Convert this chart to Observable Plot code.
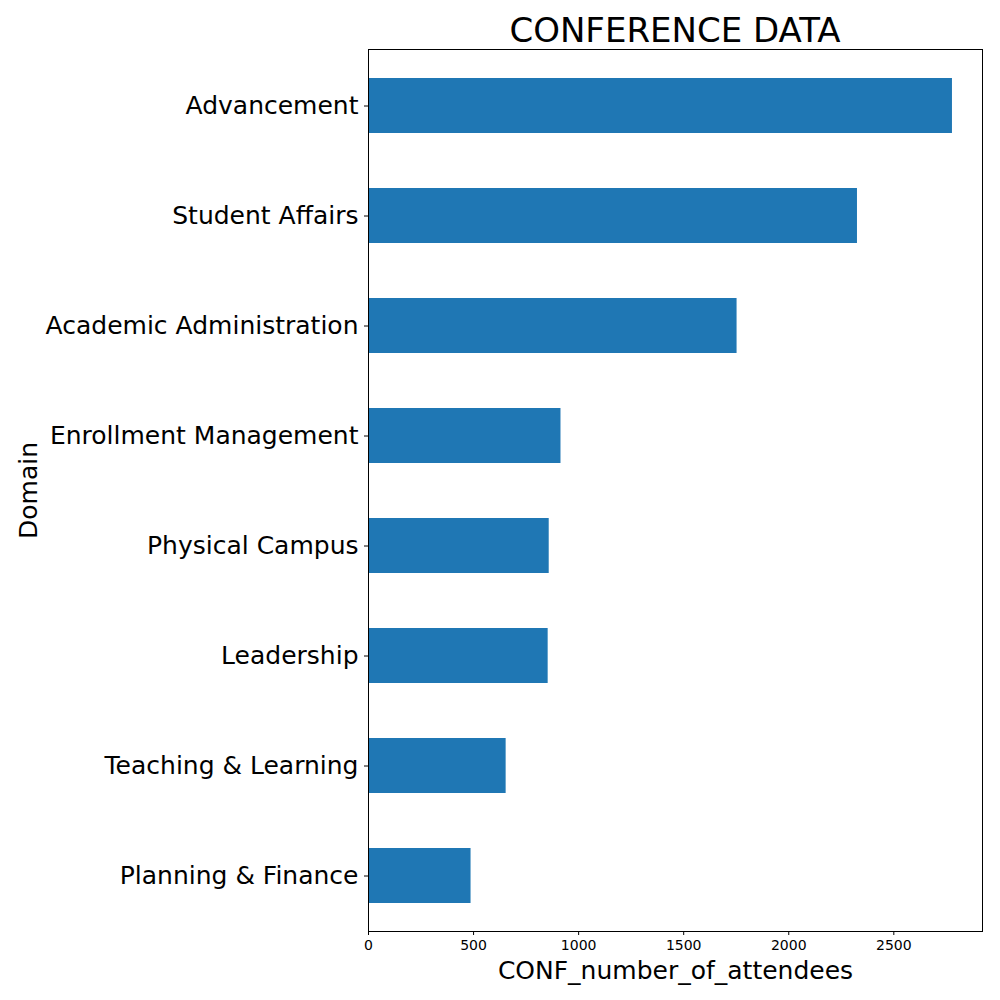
<!DOCTYPE html>
<html>
<head>
<meta charset="utf-8">
<script src="https://cdn.jsdelivr.net/npm/d3@7"></script>
<script src="https://cdn.jsdelivr.net/npm/@observablehq/plot@0.6"></script>
<style>
  body { margin: 0; background: #fff; font-family: "DejaVu Sans", sans-serif; }
  #wrap { position: relative; width: 1000px; height: 1000px; }
  #title { position: absolute; left: 368px; width: 614px; top: 10px; text-align: center;
           font-size: 34px; line-height: 40px; color: #000; }
</style>
</head>
<body>
<div id="wrap"><div id="title">CONFERENCE DATA</div></div>
<script>
const domains = ["Advancement", "Student Affairs", "Academic Administration", "Enrollment Management",
                 "Physical Campus", "Leadership", "Teaching & Learning", "Planning & Finance"];
const attendees = [2779, 2327, 1754, 916, 860, 855, 655, 488];
const xTicks = [0, 500, 1000, 1500, 2000, 2500];

const data = domains.map((d, i) => ({domain: d, value: attendees[i]}));

const chart = Plot.plot({
  width: 1000,
  height: 1000,
  marginLeft: 368,
  marginRight: 18,
  marginTop: 49,
  marginBottom: 69,
  style: {fontFamily: "DejaVu Sans, sans-serif", background: "white", color: "black"},
  x: {domain: [0, 2922]},
  y: {domain: domains, paddingInner: 0.5, paddingOuter: 0.25},
  marks: [
    Plot.barX(data, {y: "domain", x: "value", fill: "#1f77b4"}),
    Plot.frame({stroke: "black", strokeWidth: 1}),
    Plot.axisX({ticks: xTicks, tickSize: 4, tickPadding: 5, fontSize: 14, label: null, tickFormat: d => String(d)}),
    Plot.axisY({tickSize: 4, tickPadding: 6, fontSize: 25, label: null}),
    Plot.text(["CONF_number_of_attendees"], {frameAnchor: "bottom", dy: 47, fontSize: 25, text: d => d}),
    Plot.text(["Domain"], {frameAnchor: "left", textAnchor: "middle", dx: -340, rotate: -90, fontSize: 25, text: d => d})
  ]
});
document.getElementById("wrap").appendChild(chart);
</script>
</body>
</html>
